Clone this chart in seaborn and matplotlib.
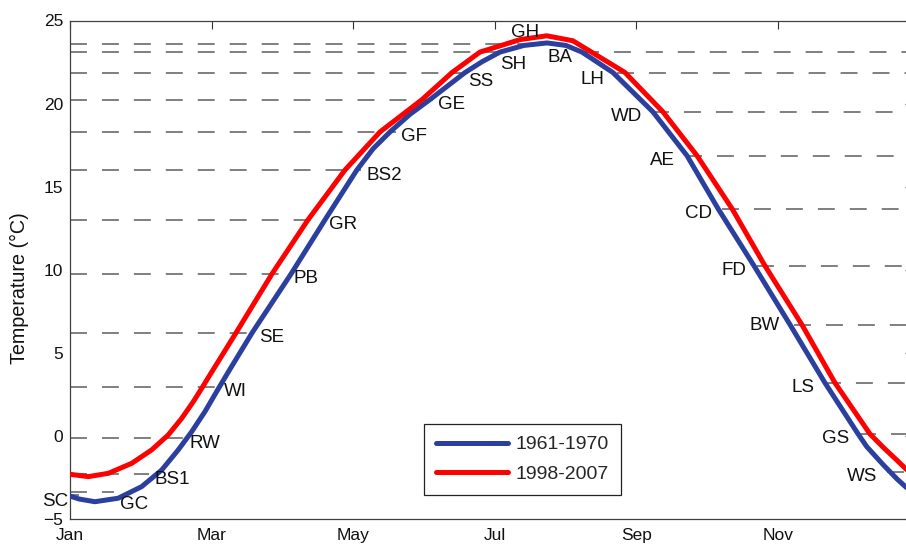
import matplotlib
matplotlib.use("Agg")
import matplotlib.pyplot as plt
from matplotlib.lines import Line2D
import numpy as np
import pandas as pd
import seaborn as sns

# ---------------- data ----------------
series_names = ["1961-1970", "1998-2007"]

blue_days = [1, 5, 11.7, 21.7, 31.8, 40.4, 47.5, 53.3, 59, 64, 69, 79.2, 96,
             110.5, 124.2, 131.3, 138.5, 147, 155.6, 170.7, 178, 185.7, 196,
             205.9, 214, 220.9, 234.2, 251.4, 266, 279.4, 294.8, 310.3, 325.3,
             339.5, 343.2, 350.4, 356.3, 360.3]
blue_temps = [-3.62, -3.8, -3.96, -3.75, -3.05, -2.05, -0.84, 0.26, 1.47, 2.67,
              3.85, 6.2, 9.76, 13.0, 16.0, 17.3, 18.3, 19.35, 20.24, 21.87,
              22.52, 23.1, 23.5, 23.65, 23.5, 23.1, 21.87, 19.5, 16.87, 13.67,
              10.24, 6.69, 3.19, 0.12, -0.64, -1.75, -2.6, -3.11]

red_days = [1, 8.9, 17.5, 27.5, 36.1, 43.2, 49, 54, 57.6, 61.1, 72.3, 87.8,
            103.2, 119.1, 134.2, 152.2, 165.1, 177.1, 194.3, 205.8, 217, 225,
            239.4, 255.7, 270.3, 285.4, 299.5, 315.4, 329.6, 344.6, 350.4,
            356.1, 360.3]
red_temps = [-2.31, -2.45, -2.25, -1.65, -0.84, 0.06, 1.06, 2.07, 2.87, 3.67,
             6.2, 9.76, 13.0, 16.0, 18.3, 20.24, 21.87, 23.1, 23.85, 24.08,
             23.78, 23.1, 21.87, 19.5, 16.87, 13.67, 10.24, 6.69, 3.19, 0.12,
             -0.7, -1.45, -2.02]

term_labels = ["SC", "GC", "BS1", "RW", "WI", "SE", "PB", "GR", "BS2", "GF",
               "GE", "SS", "SH", "GH", "BA", "LH", "WD", "AE", "CD", "FD",
               "BW", "LS", "GS", "WS"]
term_days = [5, 20, 35, 50, 65, 80, 95, 110, 126, 141, 157, 172, 188, 204,
             221, 236, 251, 265, 281, 296, 312, 325, 340, 352]
term_levels = [-3.55, -3.4, -2.3, -0.14, 2.95, 6.2, 9.76, 13.0, 16.0, 18.3,
               20.24, 21.87, 23.1, 23.6, 23.1, 21.87, 19.5, 16.87, 13.67,
               10.24, 6.69, 3.19, 0.12, -2.17]
n_rising = 14  # SC .. GH: dashed line runs from the left edge to the term

month_ticks = [1, 61.8, 122.7, 183.5, 244.3, 305.2]
month_labels = ["Jan", "Mar", "May", "Jul", "Sep", "Nov"]
y_ticks = [-5, 0, 5, 10, 15, 20, 25]

# ---------------- style ----------------
sns.set_theme(style="white")
plt.rcParams["font.family"] = ["Liberation Sans", "DejaVu Sans"]

W, H = 906, 545
fig = plt.figure(figsize=(W / 100, H / 100), dpi=100)
ax = fig.add_axes([70 / W, 26 / H, 843 / W, 498.5 / H])

XMIN, XMAX = 1, 363.1
BLUE, RED = "#2b3f9e", "#ff0000"
FS_TICK = 12.5
FS_LAB = 13.5
FS_LEG = 14
FS_Y = 14.2

# dashed reference lines
dash_lw = 1.1
for i, (d, lv) in enumerate(zip(term_days, term_levels)):
    x0, x1 = (XMIN, d) if i < n_rising else (d, XMAX)
    ax.plot([x0, x1], [lv, lv], color="#5c5c5c", lw=dash_lw,
            dashes=(12.2 / dash_lw, 10.8 / dash_lw), zorder=1,
            solid_capstyle="butt", dash_capstyle="butt")

# curves
df = pd.DataFrame({
    "day": blue_days + red_days,
    "temp": blue_temps + red_temps,
    "period": [series_names[0]] * len(blue_days) + [series_names[1]] * len(red_days),
})
sns.lineplot(data=df, x="day", y="temp", hue="period",
             palette=[BLUE, RED], linewidth=3.6, estimator=None, sort=True,
             ax=ax, legend=False, zorder=3)
for ln in ax.get_lines()[-2:]:
    ln.set_solid_joinstyle("round")

# term labels
overrides = {
    "SC": ("right", -11, -7),
    "GC": ("left", 6, -12),
    "SS": ("left", 0, -9),
    "SH": ("left", -5, -12),
    "GH": ("right", -3, 11),
    "LH": ("right", -13, -7),
    "BW": ("right", -14, -1),
}
for i, (lab, d, lv) in enumerate(zip(term_labels, term_days, term_levels)):
    if lab in overrides:
        ha, dx, dy = overrides[lab]
    elif i < n_rising:
        ha, dx, dy = "left", 5, -5
    else:
        ha, dx, dy = "right", -10, -5
    ax.annotate(lab, (d, lv), xytext=(dx, dy), textcoords="offset pixels",
                ha=ha, va="center", fontsize=FS_LAB, color="#111111", zorder=4)

# axes
ax.set_xlim(XMIN, XMAX)
ax.set_ylim(-5, 25)
ax.set_xticks(month_ticks, month_labels)
ax.set_yticks(y_ticks)
ax.tick_params(direction="in", length=5.8, width=0.8, top=True, right=True,
               labelsize=FS_TICK, colors="#333333", labelcolor="#111111")
ax.tick_params(axis="x", pad=6.5)
ax.tick_params(axis="y", pad=5)
for sp in ax.spines.values():
    sp.set_color("#404040")
    sp.set_linewidth(0.9)
ax.set_xlabel("")
ax.set_ylabel("Temperature (°C)", fontsize=FS_Y, color="#111111")
ax.yaxis.set_label_coords(-0.0486, 0.463)

handles = [Line2D([], [], color=BLUE, lw=3.6), Line2D([], [], color=RED, lw=3.6)]
leg = ax.legend(handles, series_names, loc="center",
                bbox_to_anchor=(522.5 / W, 1 - 459.5 / H),
                bbox_transform=fig.transFigure, fontsize=FS_LEG,
                frameon=True, fancybox=False, framealpha=1, edgecolor="#222222",
                handlelength=3.7, handletextpad=0.42, labelspacing=0.62,
                borderpad=0.6, borderaxespad=0)
leg.get_frame().set_linewidth(0.9)

fig.savefig("out.png", dpi=100)
